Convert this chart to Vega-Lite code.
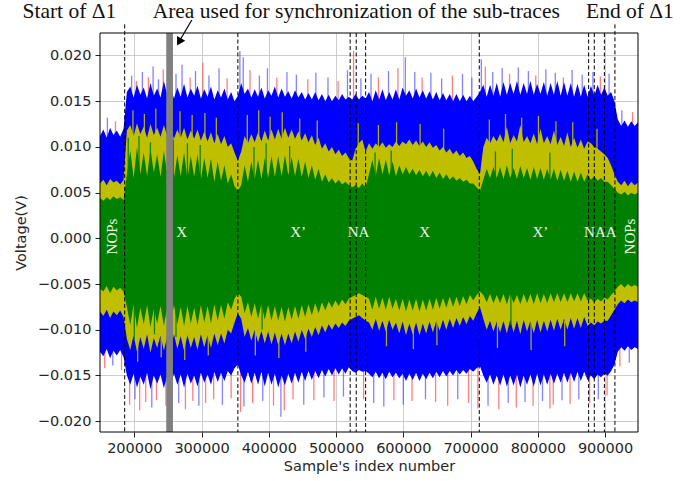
{
"$schema": "https://vega.github.io/schema/vega-lite/v6.json",
"width": 538, "height": 399,
"autosize": {"type": "none"},
"padding": {"left": 100, "top": 33, "right": 51, "bottom": 49},
"background": "white",
"config": {
 "view": {"stroke": null},
 "axis": {"labelFont": "DejaVu Sans", "labelFontSize": 14.5, "labelColor": "#262626", "titleFont": "DejaVu Sans", "titleFontSize": 14.5, "titleFontWeight": "normal", "titleColor": "#262626", "tickColor": "#222222", "tickSize": 5, "tickWidth": 1, "domain": false, "grid": true, "gridColor": "#c0c0c0", "gridWidth": 0.8, "labelPadding": 4, "labelFlush": false},
 "axisY": {"titlePadding": 9},
 "axisX": {"titlePadding": 5}
},
"datasets": {
"trace": [
{"x":149000,"bt":0.0112,"yt":0.0060,"gt":0.0044,"gb":-0.0055,"yb":-0.0080,"bb":-0.0124},
{"x":154000,"bt":0.0119,"yt":0.0064,"gt":0.0041,"gb":-0.0058,"yb":-0.0085,"bb":-0.0129},
{"x":159000,"bt":0.0110,"yt":0.0058,"gt":0.0045,"gb":-0.0052,"yb":-0.0078,"bb":-0.0121},
{"x":164000,"bt":0.0121,"yt":0.0065,"gt":0.0042,"gb":-0.0060,"yb":-0.0087,"bb":-0.0131},
{"x":169000,"bt":0.0113,"yt":0.0061,"gt":0.0046,"gb":-0.0053,"yb":-0.0080,"bb":-0.0123},
{"x":174000,"bt":0.0118,"yt":0.0063,"gt":0.0043,"gb":-0.0057,"yb":-0.0084,"bb":-0.0128},
{"x":179000,"bt":0.0111,"yt":0.0059,"gt":0.0045,"gb":-0.0054,"yb":-0.0079,"bb":-0.0122},
{"x":184000,"bt":0.0120,"yt":0.0064,"gt":0.0042,"gb":-0.0058,"yb":-0.0086,"bb":-0.0130},
{"x":189000,"bt":0.0160,"yt":0.0118,"gt":0.0070,"gb":-0.0075,"yb":-0.0110,"bb":-0.0150},
{"x":194000,"bt":0.0166,"yt":0.0124,"gt":0.0096,"gb":-0.0095,"yb":-0.0122,"bb":-0.0160},
{"x":199000,"bt":0.0154,"yt":0.0112,"gt":0.0066,"gb":-0.0072,"yb":-0.0106,"bb":-0.0148},
{"x":204000,"bt":0.0168,"yt":0.0126,"gt":0.0100,"gb":-0.0098,"yb":-0.0124,"bb":-0.0163},
{"x":209000,"bt":0.0157,"yt":0.0114,"gt":0.0070,"gb":-0.0076,"yb":-0.0108,"bb":-0.0151},
{"x":214000,"bt":0.0165,"yt":0.0122,"gt":0.0094,"gb":-0.0094,"yb":-0.0121,"bb":-0.0160},
{"x":219000,"bt":0.0153,"yt":0.0110,"gt":0.0068,"gb":-0.0073,"yb":-0.0105,"bb":-0.0147},
{"x":224000,"bt":0.0170,"yt":0.0125,"gt":0.0098,"gb":-0.0097,"yb":-0.0125,"bb":-0.0165},
{"x":229000,"bt":0.0156,"yt":0.0113,"gt":0.0072,"gb":-0.0077,"yb":-0.0109,"bb":-0.0150},
{"x":234000,"bt":0.0164,"yt":0.0121,"gt":0.0092,"gb":-0.0093,"yb":-0.0120,"bb":-0.0159},
{"x":239000,"bt":0.0154,"yt":0.0111,"gt":0.0067,"gb":-0.0074,"yb":-0.0106,"bb":-0.0149},
{"x":244000,"bt":0.0172,"yt":0.0124,"gt":0.0096,"gb":-0.0096,"yb":-0.0123,"bb":-0.0164},
{"x":249000,"bt":0.0157,"yt":0.0112,"gt":0.0070,"gb":-0.0075,"yb":-0.0107,"bb":-0.0150},
{"x":254000,"bt":0.0166,"yt":0.0120,"gt":0.0093,"gb":-0.0095,"yb":-0.0122,"bb":-0.0161},
{"x":259000,"bt":0.0153,"yt":0.0109,"gt":0.0066,"gb":-0.0073,"yb":-0.0105,"bb":-0.0148},
{"x":264000,"bt":0.0165,"yt":0.0119,"gt":0.0091,"gb":-0.0094,"yb":-0.0121,"bb":-0.0160},
{"x":269000,"bt":0.0155,"yt":0.0110,"gt":0.0068,"gb":-0.0075,"yb":-0.0107,"bb":-0.0149},
{"x":274000,"bt":0.0169,"yt":0.0121,"gt":0.0094,"gb":-0.0096,"yb":-0.0123,"bb":-0.0163},
{"x":279000,"bt":0.0154,"yt":0.0108,"gt":0.0065,"gb":-0.0074,"yb":-0.0106,"bb":-0.0148},
{"x":284000,"bt":0.0164,"yt":0.0118,"gt":0.0090,"gb":-0.0093,"yb":-0.0120,"bb":-0.0159},
{"x":289000,"bt":0.0156,"yt":0.0109,"gt":0.0067,"gb":-0.0076,"yb":-0.0108,"bb":-0.0150},
{"x":294000,"bt":0.0167,"yt":0.0119,"gt":0.0092,"gb":-0.0095,"yb":-0.0122,"bb":-0.0162},
{"x":299000,"bt":0.0153,"yt":0.0107,"gt":0.0064,"gb":-0.0073,"yb":-0.0105,"bb":-0.0147},
{"x":304000,"bt":0.0163,"yt":0.0117,"gt":0.0088,"gb":-0.0092,"yb":-0.0119,"bb":-0.0158},
{"x":309000,"bt":0.0155,"yt":0.0106,"gt":0.0066,"gb":-0.0074,"yb":-0.0106,"bb":-0.0149},
{"x":314000,"bt":0.0166,"yt":0.0116,"gt":0.0087,"gb":-0.0093,"yb":-0.0120,"bb":-0.0160},
{"x":319000,"bt":0.0152,"yt":0.0104,"gt":0.0062,"gb":-0.0072,"yb":-0.0104,"bb":-0.0146},
{"x":324000,"bt":0.0162,"yt":0.0114,"gt":0.0084,"gb":-0.0090,"yb":-0.0117,"bb":-0.0157},
{"x":329000,"bt":0.0154,"yt":0.0103,"gt":0.0063,"gb":-0.0073,"yb":-0.0104,"bb":-0.0147},
{"x":334000,"bt":0.0164,"yt":0.0112,"gt":0.0080,"gb":-0.0088,"yb":-0.0115,"bb":-0.0156},
{"x":339000,"bt":0.0152,"yt":0.0100,"gt":0.0060,"gb":-0.0070,"yb":-0.0100,"bb":-0.0145},
{"x":344000,"bt":0.0160,"yt":0.0104,"gt":0.0070,"gb":-0.0078,"yb":-0.0104,"bb":-0.0150},
{"x":349000,"bt":0.0150,"yt":0.0094,"gt":0.0057,"gb":-0.0066,"yb":-0.0092,"bb":-0.0142},
{"x":354000,"bt":0.0156,"yt":0.0085,"gt":0.0052,"gb":-0.0060,"yb":-0.0082,"bb":-0.0138},
{"x":359000,"bt":0.0170,"yt":0.0095,"gt":0.0058,"gb":-0.0064,"yb":-0.0088,"bb":-0.0150},
{"x":364000,"bt":0.0158,"yt":0.0112,"gt":0.0080,"gb":-0.0082,"yb":-0.0108,"bb":-0.0158},
{"x":369000,"bt":0.0164,"yt":0.0104,"gt":0.0062,"gb":-0.0070,"yb":-0.0098,"bb":-0.0146},
{"x":374000,"bt":0.0154,"yt":0.0114,"gt":0.0084,"gb":-0.0086,"yb":-0.0112,"bb":-0.0159},
{"x":379000,"bt":0.0163,"yt":0.0105,"gt":0.0064,"gb":-0.0071,"yb":-0.0100,"bb":-0.0147},
{"x":384000,"bt":0.0155,"yt":0.0116,"gt":0.0086,"gb":-0.0088,"yb":-0.0114,"bb":-0.0160},
{"x":389000,"bt":0.0165,"yt":0.0106,"gt":0.0065,"gb":-0.0072,"yb":-0.0101,"bb":-0.0146},
{"x":394000,"bt":0.0153,"yt":0.0118,"gt":0.0088,"gb":-0.0089,"yb":-0.0115,"bb":-0.0162},
{"x":399000,"bt":0.0162,"yt":0.0107,"gt":0.0066,"gb":-0.0073,"yb":-0.0102,"bb":-0.0147},
{"x":404000,"bt":0.0156,"yt":0.0119,"gt":0.0090,"gb":-0.0090,"yb":-0.0116,"bb":-0.0160},
{"x":409000,"bt":0.0166,"yt":0.0108,"gt":0.0067,"gb":-0.0074,"yb":-0.0103,"bb":-0.0148},
{"x":414000,"bt":0.0154,"yt":0.0120,"gt":0.0090,"gb":-0.0090,"yb":-0.0117,"bb":-0.0163},
{"x":419000,"bt":0.0164,"yt":0.0109,"gt":0.0068,"gb":-0.0075,"yb":-0.0104,"bb":-0.0150},
{"x":424000,"bt":0.0155,"yt":0.0121,"gt":0.0091,"gb":-0.0091,"yb":-0.0117,"bb":-0.0161},
{"x":429000,"bt":0.0161,"yt":0.0110,"gt":0.0069,"gb":-0.0075,"yb":-0.0104,"bb":-0.0148},
{"x":434000,"bt":0.0153,"yt":0.0119,"gt":0.0089,"gb":-0.0089,"yb":-0.0115,"bb":-0.0159},
{"x":439000,"bt":0.0162,"yt":0.0109,"gt":0.0068,"gb":-0.0074,"yb":-0.0102,"bb":-0.0147},
{"x":444000,"bt":0.0154,"yt":0.0117,"gt":0.0087,"gb":-0.0088,"yb":-0.0113,"bb":-0.0158},
{"x":449000,"bt":0.0160,"yt":0.0107,"gt":0.0067,"gb":-0.0073,"yb":-0.0100,"bb":-0.0146},
{"x":454000,"bt":0.0152,"yt":0.0115,"gt":0.0084,"gb":-0.0086,"yb":-0.0110,"bb":-0.0156},
{"x":459000,"bt":0.0159,"yt":0.0105,"gt":0.0066,"gb":-0.0072,"yb":-0.0099,"bb":-0.0145},
{"x":464000,"bt":0.0152,"yt":0.0113,"gt":0.0080,"gb":-0.0084,"yb":-0.0108,"bb":-0.0155},
{"x":469000,"bt":0.0160,"yt":0.0102,"gt":0.0064,"gb":-0.0071,"yb":-0.0097,"bb":-0.0145},
{"x":474000,"bt":0.0151,"yt":0.0110,"gt":0.0076,"gb":-0.0082,"yb":-0.0106,"bb":-0.0153},
{"x":479000,"bt":0.0158,"yt":0.0098,"gt":0.0062,"gb":-0.0070,"yb":-0.0095,"bb":-0.0144},
{"x":484000,"bt":0.0150,"yt":0.0104,"gt":0.0070,"gb":-0.0079,"yb":-0.0103,"bb":-0.0151},
{"x":489000,"bt":0.0157,"yt":0.0095,"gt":0.0061,"gb":-0.0069,"yb":-0.0094,"bb":-0.0143},
{"x":494000,"bt":0.0150,"yt":0.0100,"gt":0.0066,"gb":-0.0076,"yb":-0.0100,"bb":-0.0150},
{"x":499000,"bt":0.0156,"yt":0.0092,"gt":0.0060,"gb":-0.0068,"yb":-0.0093,"bb":-0.0142},
{"x":504000,"bt":0.0151,"yt":0.0097,"gt":0.0064,"gb":-0.0074,"yb":-0.0098,"bb":-0.0149},
{"x":509000,"bt":0.0158,"yt":0.0090,"gt":0.0059,"gb":-0.0067,"yb":-0.0092,"bb":-0.0142},
{"x":514000,"bt":0.0152,"yt":0.0094,"gt":0.0062,"gb":-0.0072,"yb":-0.0096,"bb":-0.0148},
{"x":519000,"bt":0.0155,"yt":0.0088,"gt":0.0058,"gb":-0.0066,"yb":-0.0090,"bb":-0.0141},
{"x":524000,"bt":0.0152,"yt":0.0085,"gt":0.0056,"gb":-0.0064,"yb":-0.0088,"bb":-0.0145},
{"x":529000,"bt":0.0158,"yt":0.0098,"gt":0.0058,"gb":-0.0062,"yb":-0.0086,"bb":-0.0147},
{"x":534000,"bt":0.0152,"yt":0.0104,"gt":0.0055,"gb":-0.0060,"yb":-0.0084,"bb":-0.0144},
{"x":539000,"bt":0.0156,"yt":0.0108,"gt":0.0060,"gb":-0.0062,"yb":-0.0087,"bb":-0.0146},
{"x":544000,"bt":0.0153,"yt":0.0095,"gt":0.0056,"gb":-0.0064,"yb":-0.0090,"bb":-0.0145},
{"x":549000,"bt":0.0160,"yt":0.0104,"gt":0.0070,"gb":-0.0066,"yb":-0.0092,"bb":-0.0148},
{"x":554000,"bt":0.0150,"yt":0.0098,"gt":0.0086,"gb":-0.0078,"yb":-0.0100,"bb":-0.0152},
{"x":559000,"bt":0.0162,"yt":0.0104,"gt":0.0068,"gb":-0.0064,"yb":-0.0088,"bb":-0.0146},
{"x":564000,"bt":0.0152,"yt":0.0100,"gt":0.0088,"gb":-0.0077,"yb":-0.0101,"bb":-0.0153},
{"x":569000,"bt":0.0163,"yt":0.0105,"gt":0.0070,"gb":-0.0065,"yb":-0.0090,"bb":-0.0147},
{"x":574000,"bt":0.0151,"yt":0.0099,"gt":0.0086,"gb":-0.0078,"yb":-0.0102,"bb":-0.0154},
{"x":579000,"bt":0.0160,"yt":0.0103,"gt":0.0069,"gb":-0.0064,"yb":-0.0089,"bb":-0.0146},
{"x":584000,"bt":0.0152,"yt":0.0100,"gt":0.0084,"gb":-0.0077,"yb":-0.0100,"bb":-0.0152},
{"x":589000,"bt":0.0163,"yt":0.0106,"gt":0.0068,"gb":-0.0066,"yb":-0.0092,"bb":-0.0147},
{"x":594000,"bt":0.0152,"yt":0.0101,"gt":0.0080,"gb":-0.0079,"yb":-0.0104,"bb":-0.0153},
{"x":599000,"bt":0.0165,"yt":0.0106,"gt":0.0070,"gb":-0.0066,"yb":-0.0091,"bb":-0.0148},
{"x":604000,"bt":0.0156,"yt":0.0103,"gt":0.0078,"gb":-0.0080,"yb":-0.0106,"bb":-0.0156},
{"x":609000,"bt":0.0162,"yt":0.0108,"gt":0.0070,"gb":-0.0067,"yb":-0.0093,"bb":-0.0148},
{"x":614000,"bt":0.0153,"yt":0.0102,"gt":0.0076,"gb":-0.0079,"yb":-0.0105,"bb":-0.0155},
{"x":619000,"bt":0.0164,"yt":0.0107,"gt":0.0069,"gb":-0.0066,"yb":-0.0092,"bb":-0.0147},
{"x":624000,"bt":0.0154,"yt":0.0101,"gt":0.0075,"gb":-0.0080,"yb":-0.0106,"bb":-0.0156},
{"x":629000,"bt":0.0162,"yt":0.0106,"gt":0.0068,"gb":-0.0067,"yb":-0.0093,"bb":-0.0148},
{"x":634000,"bt":0.0153,"yt":0.0100,"gt":0.0074,"gb":-0.0079,"yb":-0.0104,"bb":-0.0154},
{"x":639000,"bt":0.0161,"yt":0.0105,"gt":0.0067,"gb":-0.0066,"yb":-0.0091,"bb":-0.0147},
{"x":644000,"bt":0.0152,"yt":0.0099,"gt":0.0074,"gb":-0.0078,"yb":-0.0103,"bb":-0.0153},
{"x":649000,"bt":0.0160,"yt":0.0102,"gt":0.0066,"gb":-0.0065,"yb":-0.0090,"bb":-0.0146},
{"x":654000,"bt":0.0151,"yt":0.0096,"gt":0.0072,"gb":-0.0077,"yb":-0.0101,"bb":-0.0152},
{"x":659000,"bt":0.0159,"yt":0.0100,"gt":0.0065,"gb":-0.0065,"yb":-0.0089,"bb":-0.0145},
{"x":664000,"bt":0.0151,"yt":0.0094,"gt":0.0070,"gb":-0.0076,"yb":-0.0100,"bb":-0.0151},
{"x":669000,"bt":0.0158,"yt":0.0098,"gt":0.0064,"gb":-0.0064,"yb":-0.0088,"bb":-0.0145},
{"x":674000,"bt":0.0150,"yt":0.0092,"gt":0.0068,"gb":-0.0075,"yb":-0.0098,"bb":-0.0150},
{"x":679000,"bt":0.0158,"yt":0.0096,"gt":0.0063,"gb":-0.0064,"yb":-0.0087,"bb":-0.0144},
{"x":684000,"bt":0.0150,"yt":0.0090,"gt":0.0066,"gb":-0.0074,"yb":-0.0096,"bb":-0.0149},
{"x":689000,"bt":0.0157,"yt":0.0094,"gt":0.0062,"gb":-0.0063,"yb":-0.0086,"bb":-0.0144},
{"x":694000,"bt":0.0150,"yt":0.0088,"gt":0.0064,"gb":-0.0072,"yb":-0.0094,"bb":-0.0148},
{"x":699000,"bt":0.0156,"yt":0.0090,"gt":0.0060,"gb":-0.0062,"yb":-0.0085,"bb":-0.0143},
{"x":704000,"bt":0.0150,"yt":0.0084,"gt":0.0060,"gb":-0.0068,"yb":-0.0090,"bb":-0.0146},
{"x":709000,"bt":0.0155,"yt":0.0076,"gt":0.0056,"gb":-0.0062,"yb":-0.0082,"bb":-0.0142},
{"x":714000,"bt":0.0160,"yt":0.0070,"gt":0.0052,"gb":-0.0058,"yb":-0.0075,"bb":-0.0140},
{"x":719000,"bt":0.0168,"yt":0.0100,"gt":0.0064,"gb":-0.0062,"yb":-0.0088,"bb":-0.0150},
{"x":724000,"bt":0.0155,"yt":0.0110,"gt":0.0076,"gb":-0.0070,"yb":-0.0100,"bb":-0.0158},
{"x":729000,"bt":0.0168,"yt":0.0104,"gt":0.0066,"gb":-0.0061,"yb":-0.0090,"bb":-0.0149},
{"x":734000,"bt":0.0156,"yt":0.0112,"gt":0.0078,"gb":-0.0071,"yb":-0.0102,"bb":-0.0160},
{"x":739000,"bt":0.0170,"yt":0.0106,"gt":0.0066,"gb":-0.0062,"yb":-0.0091,"bb":-0.0150},
{"x":744000,"bt":0.0155,"yt":0.0114,"gt":0.0078,"gb":-0.0071,"yb":-0.0103,"bb":-0.0161},
{"x":749000,"bt":0.0171,"yt":0.0105,"gt":0.0065,"gb":-0.0061,"yb":-0.0090,"bb":-0.0149},
{"x":754000,"bt":0.0157,"yt":0.0122,"gt":0.0080,"gb":-0.0072,"yb":-0.0104,"bb":-0.0162},
{"x":759000,"bt":0.0170,"yt":0.0104,"gt":0.0066,"gb":-0.0061,"yb":-0.0089,"bb":-0.0150},
{"x":764000,"bt":0.0158,"yt":0.0113,"gt":0.0077,"gb":-0.0071,"yb":-0.0103,"bb":-0.0161},
{"x":769000,"bt":0.0172,"yt":0.0106,"gt":0.0065,"gb":-0.0062,"yb":-0.0090,"bb":-0.0149},
{"x":774000,"bt":0.0157,"yt":0.0124,"gt":0.0079,"gb":-0.0072,"yb":-0.0105,"bb":-0.0163},
{"x":779000,"bt":0.0170,"yt":0.0105,"gt":0.0066,"gb":-0.0061,"yb":-0.0089,"bb":-0.0150},
{"x":784000,"bt":0.0158,"yt":0.0112,"gt":0.0077,"gb":-0.0071,"yb":-0.0102,"bb":-0.0160},
{"x":789000,"bt":0.0172,"yt":0.0104,"gt":0.0064,"gb":-0.0061,"yb":-0.0090,"bb":-0.0149},
{"x":794000,"bt":0.0157,"yt":0.0115,"gt":0.0078,"gb":-0.0072,"yb":-0.0104,"bb":-0.0162},
{"x":799000,"bt":0.0169,"yt":0.0103,"gt":0.0065,"gb":-0.0060,"yb":-0.0089,"bb":-0.0148},
{"x":804000,"bt":0.0158,"yt":0.0120,"gt":0.0077,"gb":-0.0071,"yb":-0.0103,"bb":-0.0161},
{"x":809000,"bt":0.0171,"yt":0.0104,"gt":0.0064,"gb":-0.0061,"yb":-0.0090,"bb":-0.0149},
{"x":814000,"bt":0.0156,"yt":0.0112,"gt":0.0076,"gb":-0.0071,"yb":-0.0102,"bb":-0.0160},
{"x":819000,"bt":0.0170,"yt":0.0103,"gt":0.0064,"gb":-0.0060,"yb":-0.0089,"bb":-0.0148},
{"x":824000,"bt":0.0157,"yt":0.0118,"gt":0.0076,"gb":-0.0070,"yb":-0.0101,"bb":-0.0159},
{"x":829000,"bt":0.0172,"yt":0.0102,"gt":0.0063,"gb":-0.0060,"yb":-0.0088,"bb":-0.0148},
{"x":834000,"bt":0.0156,"yt":0.0111,"gt":0.0075,"gb":-0.0070,"yb":-0.0100,"bb":-0.0158},
{"x":839000,"bt":0.0171,"yt":0.0101,"gt":0.0063,"gb":-0.0060,"yb":-0.0088,"bb":-0.0147},
{"x":844000,"bt":0.0156,"yt":0.0116,"gt":0.0074,"gb":-0.0070,"yb":-0.0100,"bb":-0.0158},
{"x":849000,"bt":0.0170,"yt":0.0100,"gt":0.0062,"gb":-0.0060,"yb":-0.0087,"bb":-0.0147},
{"x":854000,"bt":0.0155,"yt":0.0110,"gt":0.0073,"gb":-0.0069,"yb":-0.0099,"bb":-0.0157},
{"x":859000,"bt":0.0169,"yt":0.0099,"gt":0.0062,"gb":-0.0060,"yb":-0.0087,"bb":-0.0146},
{"x":864000,"bt":0.0155,"yt":0.0108,"gt":0.0072,"gb":-0.0069,"yb":-0.0098,"bb":-0.0156},
{"x":869000,"bt":0.0168,"yt":0.0098,"gt":0.0062,"gb":-0.0060,"yb":-0.0086,"bb":-0.0146},
{"x":874000,"bt":0.0155,"yt":0.0106,"gt":0.0070,"gb":-0.0068,"yb":-0.0096,"bb":-0.0155},
{"x":879000,"bt":0.0167,"yt":0.0104,"gt":0.0064,"gb":-0.0066,"yb":-0.0092,"bb":-0.0150},
{"x":884000,"bt":0.0156,"yt":0.0100,"gt":0.0068,"gb":-0.0070,"yb":-0.0095,"bb":-0.0154},
{"x":889000,"bt":0.0168,"yt":0.0098,"gt":0.0063,"gb":-0.0066,"yb":-0.0091,"bb":-0.0149},
{"x":894000,"bt":0.0157,"yt":0.0095,"gt":0.0066,"gb":-0.0069,"yb":-0.0093,"bb":-0.0152},
{"x":899000,"bt":0.0165,"yt":0.0092,"gt":0.0062,"gb":-0.0065,"yb":-0.0090,"bb":-0.0148},
{"x":904000,"bt":0.0156,"yt":0.0088,"gt":0.0062,"gb":-0.0067,"yb":-0.0090,"bb":-0.0150},
{"x":909000,"bt":0.0160,"yt":0.0080,"gt":0.0058,"gb":-0.0062,"yb":-0.0084,"bb":-0.0145},
{"x":914000,"bt":0.0150,"yt":0.0070,"gt":0.0054,"gb":-0.0058,"yb":-0.0078,"bb":-0.0138},
{"x":919000,"bt":0.0130,"yt":0.0062,"gt":0.0050,"gb":-0.0053,"yb":-0.0072,"bb":-0.0124},
{"x":924000,"bt":0.0123,"yt":0.0058,"gt":0.0048,"gb":-0.0050,"yb":-0.0068,"bb":-0.0119},
{"x":929000,"bt":0.0129,"yt":0.0063,"gt":0.0051,"gb":-0.0054,"yb":-0.0071,"bb":-0.0123},
{"x":934000,"bt":0.0122,"yt":0.0057,"gt":0.0047,"gb":-0.0050,"yb":-0.0067,"bb":-0.0118},
{"x":939000,"bt":0.0128,"yt":0.0062,"gt":0.0050,"gb":-0.0053,"yb":-0.0070,"bb":-0.0122},
{"x":944000,"bt":0.0123,"yt":0.0058,"gt":0.0048,"gb":-0.0051,"yb":-0.0068,"bb":-0.0119},
{"x":949000,"bt":0.0127,"yt":0.0061,"gt":0.0050,"gb":-0.0053,"yb":-0.0070,"bb":-0.0121}
],
"spikes": [
{"x":160000,"lo":0.0110,"hi":0.0132,"c":"b"},{"x":172000,"lo":0.0110,"hi":0.0128,"c":"r"},
{"x":196000,"lo":0.015,"hi":0.0178,"c":"b"},{"x":203000,"lo":0.015,"hi":0.0172,"c":"r"},{"x":212000,"lo":0.015,"hi":0.0182,"c":"b"},{"x":221000,"lo":0.015,"hi":0.0176,"c":"r"},{"x":228000,"lo":0.015,"hi":0.0188,"c":"b"},{"x":236000,"lo":0.015,"hi":0.0174,"c":"b"},{"x":243000,"lo":0.015,"hi":0.0185,"c":"r"},{"x":262000,"lo":0.015,"hi":0.0180,"c":"b"},{"x":271000,"lo":0.015,"hi":0.0190,"c":"b"},{"x":283000,"lo":0.015,"hi":0.0176,"c":"r"},{"x":291000,"lo":0.015,"hi":0.0183,"c":"b"},{"x":302000,"lo":0.015,"hi":0.0192,"c":"r"},{"x":311000,"lo":0.015,"hi":0.0178,"c":"b"},{"x":326000,"lo":0.015,"hi":0.0186,"c":"b"},{"x":338000,"lo":0.015,"hi":0.0175,"c":"r"},{"x":357000,"lo":0.015,"hi":0.0205,"c":"b"},{"x":362000,"lo":0.015,"hi":0.0198,"c":"b"},{"x":372000,"lo":0.015,"hi":0.0184,"c":"r"},{"x":386000,"lo":0.015,"hi":0.0178,"c":"b"},{"x":398000,"lo":0.015,"hi":0.0186,"c":"b"},{"x":412000,"lo":0.015,"hi":0.0176,"c":"r"},{"x":427000,"lo":0.015,"hi":0.0182,"c":"b"},{"x":441000,"lo":0.015,"hi":0.0179,"c":"b"},{"x":458000,"lo":0.015,"hi":0.0174,"c":"r"},{"x":470000,"lo":0.015,"hi":0.0181,"c":"b"},{"x":488000,"lo":0.015,"hi":0.0176,"c":"b"},{"x":503000,"lo":0.015,"hi":0.0172,"c":"r"},{"x":517000,"lo":0.015,"hi":0.0184,"c":"b"},{"x":526000,"lo":0.015,"hi":0.0205,"c":"r"},{"x":537000,"lo":0.015,"hi":0.0175,"c":"b"},{"x":552000,"lo":0.015,"hi":0.0180,"c":"b"},{"x":563000,"lo":0.015,"hi":0.0176,"c":"r"},{"x":578000,"lo":0.015,"hi":0.0183,"c":"b"},{"x":592000,"lo":0.015,"hi":0.0186,"c":"r"},{"x":603000,"lo":0.015,"hi":0.0198,"c":"b"},{"x":617000,"lo":0.015,"hi":0.0182,"c":"b"},{"x":628000,"lo":0.015,"hi":0.0176,"c":"r"},{"x":641000,"lo":0.015,"hi":0.0181,"c":"b"},{"x":657000,"lo":0.015,"hi":0.0175,"c":"b"},{"x":673000,"lo":0.015,"hi":0.0178,"c":"r"},{"x":688000,"lo":0.015,"hi":0.0180,"c":"b"},{"x":702000,"lo":0.015,"hi":0.0176,"c":"b"},{"x":716000,"lo":0.015,"hi":0.0196,"c":"b"},{"x":722000,"lo":0.015,"hi":0.0188,"c":"r"},{"x":733000,"lo":0.015,"hi":0.0182,"c":"b"},{"x":747000,"lo":0.015,"hi":0.0186,"c":"b"},{"x":758000,"lo":0.015,"hi":0.0180,"c":"r"},{"x":771000,"lo":0.015,"hi":0.0187,"c":"b"},{"x":786000,"lo":0.015,"hi":0.0183,"c":"b"},{"x":797000,"lo":0.015,"hi":0.0178,"c":"r"},{"x":812000,"lo":0.015,"hi":0.0185,"c":"b"},{"x":826000,"lo":0.015,"hi":0.0181,"c":"b"},{"x":838000,"lo":0.015,"hi":0.0176,"c":"r"},{"x":851000,"lo":0.015,"hi":0.0184,"c":"b"},{"x":866000,"lo":0.015,"hi":0.0179,"c":"b"},{"x":882000,"lo":0.015,"hi":0.0182,"c":"b"},{"x":893000,"lo":0.015,"hi":0.0177,"c":"r"},{"x":906000,"lo":0.015,"hi":0.0180,"c":"b"},{"x":925000,"lo":0.012,"hi":0.0140,"c":"b"},{"x":941000,"lo":0.012,"hi":0.0138,"c":"r"},
{"x":156000,"lo":-0.0142,"hi":-0.012,"c":"r"},{"x":168000,"lo":-0.0139,"hi":-0.012,"c":"b"},{"x":181000,"lo":-0.0144,"hi":-0.012,"c":"r"},
{"x":193000,"lo":-0.0182,"hi":-0.014,"c":"r"},{"x":201000,"lo":-0.0176,"hi":-0.014,"c":"b"},{"x":208000,"lo":-0.0188,"hi":-0.014,"c":"r"},{"x":217000,"lo":-0.0179,"hi":-0.014,"c":"r"},{"x":226000,"lo":-0.0185,"hi":-0.014,"c":"b"},{"x":233000,"lo":-0.0177,"hi":-0.014,"c":"r"},{"x":247000,"lo":-0.0183,"hi":-0.014,"c":"r"},{"x":266000,"lo":-0.0180,"hi":-0.014,"c":"b"},{"x":276000,"lo":-0.0187,"hi":-0.014,"c":"r"},{"x":287000,"lo":-0.0178,"hi":-0.014,"c":"r"},{"x":296000,"lo":-0.0183,"hi":-0.014,"c":"b"},{"x":306000,"lo":-0.0180,"hi":-0.014,"c":"r"},{"x":318000,"lo":-0.0176,"hi":-0.014,"c":"r"},{"x":331000,"lo":-0.0182,"hi":-0.014,"c":"b"},{"x":344000,"lo":-0.0175,"hi":-0.014,"c":"r"},{"x":358000,"lo":-0.0190,"hi":-0.014,"c":"r"},{"x":363000,"lo":-0.0184,"hi":-0.014,"c":"b"},{"x":376000,"lo":-0.0180,"hi":-0.014,"c":"r"},{"x":391000,"lo":-0.0178,"hi":-0.014,"c":"b"},{"x":407000,"lo":-0.0183,"hi":-0.014,"c":"r"},{"x":418000,"lo":-0.0195,"hi":-0.014,"c":"b"},{"x":423000,"lo":-0.0188,"hi":-0.014,"c":"r"},{"x":436000,"lo":-0.0176,"hi":-0.014,"c":"r"},{"x":452000,"lo":-0.0182,"hi":-0.014,"c":"b"},{"x":467000,"lo":-0.0177,"hi":-0.014,"c":"r"},{"x":482000,"lo":-0.0174,"hi":-0.014,"c":"b"},{"x":497000,"lo":-0.0178,"hi":-0.014,"c":"r"},{"x":511000,"lo":-0.0173,"hi":-0.014,"c":"b"},{"x":541000,"lo":-0.0176,"hi":-0.014,"c":"r"},{"x":556000,"lo":-0.0180,"hi":-0.014,"c":"b"},{"x":571000,"lo":-0.0184,"hi":-0.014,"c":"b"},{"x":586000,"lo":-0.0177,"hi":-0.014,"c":"r"},{"x":600000,"lo":-0.0182,"hi":-0.014,"c":"b"},{"x":613000,"lo":-0.0178,"hi":-0.014,"c":"r"},{"x":633000,"lo":-0.0176,"hi":-0.014,"c":"b"},{"x":648000,"lo":-0.0179,"hi":-0.014,"c":"r"},{"x":666000,"lo":-0.0183,"hi":-0.014,"c":"r"},{"x":681000,"lo":-0.0176,"hi":-0.014,"c":"b"},{"x":697000,"lo":-0.0180,"hi":-0.014,"c":"r"},{"x":711000,"lo":-0.0186,"hi":-0.014,"c":"r"},{"x":726000,"lo":-0.0183,"hi":-0.014,"c":"b"},{"x":742000,"lo":-0.0187,"hi":-0.014,"c":"r"},{"x":756000,"lo":-0.0180,"hi":-0.014,"c":"b"},{"x":768000,"lo":-0.0185,"hi":-0.014,"c":"r"},{"x":781000,"lo":-0.0179,"hi":-0.014,"c":"b"},{"x":793000,"lo":-0.0183,"hi":-0.014,"c":"r"},{"x":807000,"lo":-0.0178,"hi":-0.014,"c":"b"},{"x":818000,"lo":-0.0186,"hi":-0.014,"c":"r"},{"x":823000,"lo":-0.0182,"hi":-0.014,"c":"r"},{"x":836000,"lo":-0.0177,"hi":-0.014,"c":"b"},{"x":848000,"lo":-0.0181,"hi":-0.014,"c":"r"},{"x":861000,"lo":-0.0176,"hi":-0.014,"c":"b"},{"x":877000,"lo":-0.0180,"hi":-0.014,"c":"r"},{"x":890000,"lo":-0.0176,"hi":-0.014,"c":"b"},{"x":903000,"lo":-0.0172,"hi":-0.014,"c":"r"},{"x":922000,"lo":-0.0140,"hi":-0.012,"c":"r"},{"x":936000,"lo":-0.0136,"hi":-0.012,"c":"b"},
{"x":198000,"lo":0.009,"hi":0.0140,"c":"y"},{"x":215000,"lo":0.009,"hi":0.0136,"c":"y"},{"x":232000,"lo":0.009,"hi":0.0142,"c":"y"},{"x":251000,"lo":0.009,"hi":0.0134,"c":"y"},{"x":268000,"lo":0.009,"hi":0.0139,"c":"y"},{"x":286000,"lo":0.009,"hi":0.0135,"c":"y"},{"x":305000,"lo":0.009,"hi":0.0137,"c":"y"},{"x":322000,"lo":0.009,"hi":0.0132,"c":"y"},{"x":368000,"lo":0.009,"hi":0.0135,"c":"y"},{"x":385000,"lo":0.009,"hi":0.0140,"c":"y"},{"x":402000,"lo":0.009,"hi":0.0133,"c":"y"},{"x":420000,"lo":0.009,"hi":0.0138,"c":"y"},{"x":446000,"lo":0.009,"hi":0.0131,"c":"y"},{"x":472000,"lo":0.009,"hi":0.0129,"c":"y"},{"x":533000,"lo":0.008,"hi":0.0126,"c":"y"},{"x":563000,"lo":0.009,"hi":0.0124,"c":"y"},{"x":590000,"lo":0.009,"hi":0.0127,"c":"y"},{"x":625000,"lo":0.009,"hi":0.0125,"c":"y"},{"x":660000,"lo":0.009,"hi":0.0120,"c":"y"},{"x":728000,"lo":0.009,"hi":0.0130,"c":"y"},{"x":752000,"lo":0.009,"hi":0.0136,"c":"y"},{"x":776000,"lo":0.009,"hi":0.0132,"c":"y"},{"x":801000,"lo":0.009,"hi":0.0134,"c":"y"},{"x":827000,"lo":0.009,"hi":0.0128,"c":"y"},{"x":852000,"lo":0.009,"hi":0.0127,"c":"y"},{"x":888000,"lo":0.008,"hi":0.0120,"c":"y"},
{"x":205000,"lo":-0.0135,"hi":-0.009,"c":"y"},{"x":240000,"lo":-0.0130,"hi":-0.009,"c":"y"},{"x":275000,"lo":-0.0133,"hi":-0.009,"c":"y"},{"x":310000,"lo":-0.0128,"hi":-0.009,"c":"y"},{"x":380000,"lo":-0.0128,"hi":-0.009,"c":"y"},{"x":415000,"lo":-0.0131,"hi":-0.009,"c":"y"},{"x":455000,"lo":-0.0124,"hi":-0.009,"c":"y"},{"x":575000,"lo":-0.0118,"hi":-0.009,"c":"y"},{"x":615000,"lo":-0.0121,"hi":-0.009,"c":"y"},{"x":650000,"lo":-0.0117,"hi":-0.009,"c":"y"},{"x":740000,"lo":-0.0120,"hi":-0.009,"c":"y"},{"x":790000,"lo":-0.0122,"hi":-0.009,"c":"y"},{"x":840000,"lo":-0.0118,"hi":-0.009,"c":"y"},
{"x":191000,"lo":0.005,"hi":0.0110,"c":"g"},{"x":207000,"lo":0.005,"hi":0.0112,"c":"g"},{"x":224000,"lo":0.005,"hi":0.0105,"c":"g"},{"x":258000,"lo":0.005,"hi":0.0108,"c":"g"},{"x":279000,"lo":0.005,"hi":0.0104,"c":"g"},{"x":298000,"lo":0.005,"hi":0.0102,"c":"g"},{"x":378000,"lo":0.005,"hi":0.0100,"c":"g"},{"x":396000,"lo":0.005,"hi":0.0104,"c":"g"},{"x":431000,"lo":0.005,"hi":0.0101,"c":"g"},{"x":558000,"lo":0.005,"hi":0.0094,"c":"g"},{"x":582000,"lo":0.005,"hi":0.0096,"c":"g"},{"x":737000,"lo":0.005,"hi":0.0095,"c":"g"},{"x":762000,"lo":0.005,"hi":0.0098,"c":"g"},{"x":818000,"lo":0.005,"hi":0.0094,"c":"g"},
{"x":200000,"lo":-0.0110,"hi":-0.005,"c":"g"},{"x":230000,"lo":-0.0105,"hi":-0.005,"c":"g"},{"x":262000,"lo":-0.0108,"hi":-0.005,"c":"g"},{"x":390000,"lo":-0.0100,"hi":-0.005,"c":"g"},{"x":760000,"lo":-0.0095,"hi":-0.005,"c":"g"}
]
},
"layer": [
 {"data": {"name": "spikes"}, "transform": [{"filter": "datum.c == 'r' || datum.c == 'b'"}],
  "mark": {"type": "rule", "strokeWidth": 1.3, "opacity": 0.6},
  "encoding": {
   "x": {"field": "x", "type": "quantitative", "scale": {"domain": [149000, 949000], "nice": false, "zero": false}, "title": "Sample's index number", "axis": {"values": [200000, 300000, 400000, 500000, 600000, 700000, 800000, 900000], "format": "d"}},
   "y": {"field": "hi", "type": "quantitative", "scale": {"domain": [-0.02118, 0.02246], "nice": false, "zero": false}, "title": "Voltage(V)", "axis": {"values": [-0.02, -0.015, -0.01, -0.005, 0, 0.005, 0.01, 0.015, 0.02], "format": ".3f"}},
   "y2": {"field": "lo"},
   "color": {"field": "c", "type": "nominal", "scale": {"domain": ["r", "b"], "range": ["#ff2a2a", "#3030ff"]}, "legend": null}}},
 {"data": {"name": "trace"}, "mark": {"type": "area", "color": "#0000ff"},
  "encoding": {"x": {"field": "x", "type": "quantitative", "title": "Sample's index number"}, "y": {"field": "bt", "type": "quantitative", "title": "Voltage(V)"}, "y2": {"field": "bb"}}},
 {"data": {"name": "spikes"}, "transform": [{"filter": "datum.c == 'y'"}],
  "mark": {"type": "rule", "strokeWidth": 1.3, "color": "#bfbf00", "opacity": 0.9},
  "encoding": {"x": {"field": "x", "type": "quantitative", "title": "Sample's index number"}, "y": {"field": "hi", "type": "quantitative", "title": "Voltage(V)"}, "y2": {"field": "lo"}}},
 {"data": {"name": "trace"}, "mark": {"type": "area", "color": "#bfbf00"},
  "encoding": {"x": {"field": "x", "type": "quantitative", "title": "Sample's index number"}, "y": {"field": "yt", "type": "quantitative", "title": "Voltage(V)"}, "y2": {"field": "yb"}}},
 {"data": {"name": "spikes"}, "transform": [{"filter": "datum.c == 'g'"}],
  "mark": {"type": "rule", "strokeWidth": 1.3, "color": "#008000", "opacity": 0.9},
  "encoding": {"x": {"field": "x", "type": "quantitative", "title": "Sample's index number"}, "y": {"field": "hi", "type": "quantitative", "title": "Voltage(V)"}, "y2": {"field": "lo"}}},
 {"data": {"name": "trace"}, "mark": {"type": "area", "color": "#008000"},
  "encoding": {"x": {"field": "x", "type": "quantitative", "title": "Sample's index number"}, "y": {"field": "gt", "type": "quantitative", "title": "Voltage(V)"}, "y2": {"field": "gb"}}},
 {"data": {"values": [{"x0": 247500, "x1": 257500}]}, "mark": {"type": "rect", "color": "#808080"},
  "encoding": {"x": {"field": "x0", "type": "quantitative", "title": "Sample's index number"}, "x2": {"field": "x1"}, "y": {"datum": -0.02118, "type": "quantitative", "title": "Voltage(V)"}, "y2": {"datum": 0.02246}}},
 {"data": {"values": [{"x": 185700, "top": 0.0234}, {"x": 354000, "top": 0.02246}, {"x": 521000, "top": 0.02246}, {"x": 530000, "top": 0.02246}, {"x": 544000, "top": 0.02246}, {"x": 713000, "top": 0.02246}, {"x": 875600, "top": 0.02246}, {"x": 884000, "top": 0.02246}, {"x": 899000, "top": 0.02246}, {"x": 914700, "top": 0.0234}]},
  "mark": {"type": "rule", "color": "#000000", "strokeWidth": 1, "strokeDash": [4, 2.5]},
  "encoding": {"x": {"field": "x", "type": "quantitative", "title": "Sample's index number"}, "y": {"field": "top", "type": "quantitative", "title": "Voltage(V)"}, "y2": {"datum": -0.02118}}},
 {"data": {"values": [{"x": 270600, "v": 0.0007, "t": "X"}, {"x": 443600, "v": 0.0007, "t": "X’"}, {"x": 533400, "v": 0.0007, "t": "NA"}, {"x": 631600, "v": 0.0007, "t": "X"}, {"x": 803800, "v": 0.0007, "t": "X’"}, {"x": 893000, "v": 0.0007, "t": "NAA"}]},
  "mark": {"type": "text", "font": "Liberation Serif", "fontSize": 15, "color": "#f0f5ea", "baseline": "middle", "align": "center"},
  "encoding": {"x": {"field": "x", "type": "quantitative", "title": "Sample's index number"}, "y": {"field": "v", "type": "quantitative", "title": "Voltage(V)"}, "text": {"field": "t"}}},
 {"data": {"values": [{"x": 166400, "v": 0.0002, "t": "NOPs"}, {"x": 937700, "v": 0.0002, "t": "NOPs"}]},
  "mark": {"type": "text", "font": "Liberation Serif", "fontSize": 15, "color": "#f0f5ea", "baseline": "middle", "align": "center", "angle": 270},
  "encoding": {"x": {"field": "x", "type": "quantitative", "title": "Sample's index number"}, "y": {"field": "v", "type": "quantitative", "title": "Voltage(V)"}, "text": {"field": "t"}}},
 {"data": {"values": [{"x": 103500, "v": 0.02407, "t": "Start of Δ1"}, {"x": 530000, "v": 0.02407, "t": "Area used for synchronization of the sub-traces"}, {"x": 937000, "v": 0.02407, "t": "End of Δ1"}]},
  "mark": {"type": "text", "font": "Liberation Serif", "fontSize": 21.5, "color": "#111111", "baseline": "alphabetic", "align": "center"},
  "encoding": {"x": {"field": "x", "type": "quantitative", "title": "Sample's index number"}, "y": {"field": "v", "type": "quantitative", "title": "Voltage(V)"}, "text": {"field": "t"}}},
 {"data": {"values": [{"x": 285500, "v": 0.02388}, {"x": 268000, "v": 0.0217}]},
  "mark": {"type": "line", "color": "#000000", "strokeWidth": 1.2},
  "encoding": {"x": {"field": "x", "type": "quantitative", "title": "Sample's index number"}, "y": {"field": "v", "type": "quantitative", "title": "Voltage(V)"}}},
 {"data": {"values": [{"x": 266600, "v": 0.02148}]},
  "mark": {"type": "point", "shape": "triangle-down", "filled": true, "color": "#000000", "size": 90, "angle": 30, "opacity": 1},
  "encoding": {"x": {"field": "x", "type": "quantitative", "title": "Sample's index number"}, "y": {"field": "v", "type": "quantitative", "title": "Voltage(V)"}}},
 {"data": {"values": [{}]}, "mark": {"type": "rect", "fill": null, "fillOpacity": 0, "stroke": "#000000", "strokeWidth": 1},
  "encoding": {"x": {"datum": 149000, "type": "quantitative", "title": "Sample's index number"}, "x2": {"datum": 949000}, "y": {"datum": -0.02118, "type": "quantitative", "title": "Voltage(V)"}, "y2": {"datum": 0.02246}}}
]
}
